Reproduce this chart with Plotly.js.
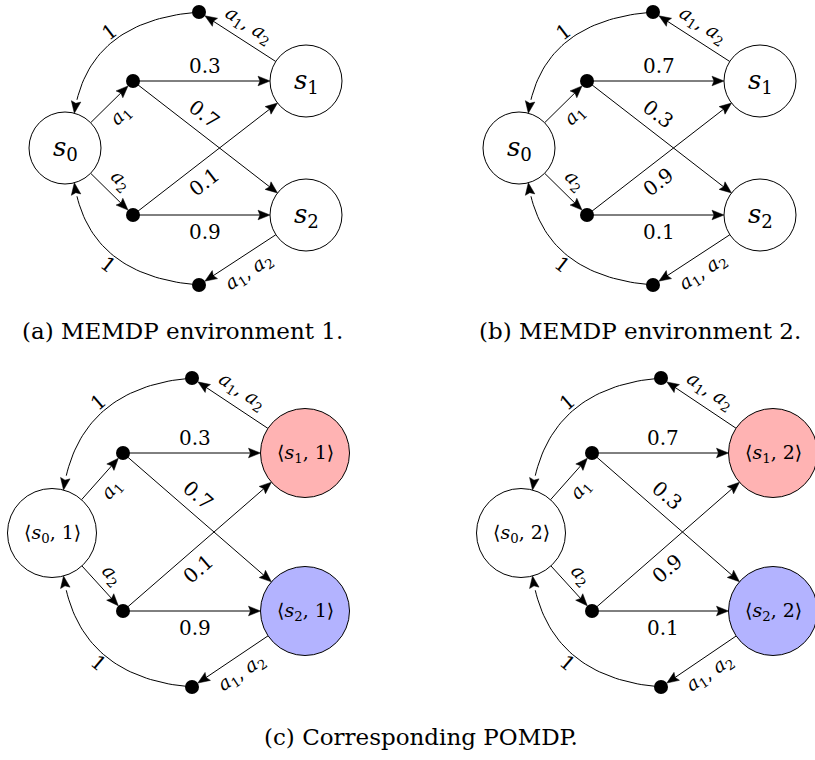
<!DOCTYPE html>
<html><head><meta charset="utf-8">
<script src="https://cdn.plot.ly/plotly-3.0.1.min.js"></script>
<style>html,body{margin:0;padding:0;background:#fff}</style>
</head><body><div id="chart" style="width:815px;height:760px"></div>
<script>
// ---------------- data ----------------
const captions = ["(a) MEMDP environment 1.", "(b) MEMDP environment 2.", "(c) Corresponding POMDP."];
const environments = [1, 2];
const probA1toS1 = [0.3, 0.7];   // per environment
const probA1toS2 = [0.7, 0.3];
const probA2toS1 = [0.1, 0.9];
const probA2toS2 = [0.9, 0.1];
const returnProb = [1, 1];
const actionIdx = [1, 2];
const stateIdx = [0, 1, 2];

// ---------------- geometry / styles ----------------
const panels = [
  {env:0, pomdp:false, s0:[65,148],  s1:[306,81],  s2:[306,215], d1x:133, dt:[199,12],  db:[199,285], r:36},
  {env:1, pomdp:false, s0:[519,148], s1:[760,81],  s2:[760,215], d1x:587, dt:[653,12],  db:[653,285], r:36},
  {env:0, pomdp:true,  s0:[52,533],  s1:[305,453], s2:[305,611], d1x:123, dt:[192,378], db:[192,687], r:44.5},
  {env:1, pomdp:true,  s0:[521,533], s1:[773,453], s2:[773,611], d1x:592, dt:[661,378], db:[661,687], r:44.5}
];
const captionPos = [[182,331],[640,331],[421,737]];
const FONT = "DejaVu Serif";
const DOTR = 7, HEADLEN = 12, HEADW = 4.8;
const pink = "rgb(255,179,179)", blue = "rgb(179,179,255)";

const lx = [], ly = [], hx = [], hy = [], dx = [], dy = [];
const shapes = [], annotations = [];

function unit(a,b){const x=b[0]-a[0], y=b[1]-a[1]; const L=Math.hypot(x,y); return [x/L,y/L,L];}
function head(tip, u){
  const bx = tip[0]-u[0]*HEADLEN, by = tip[1]-u[1]*HEADLEN;
  const px = -u[1], py = u[0];
  hx.push(tip[0], bx+px*HEADW, bx+u[0]*2, bx-px*HEADW, tip[0], null);
  hy.push(tip[1], by+py*HEADW, by+u[1]*2, by-py*HEADW, tip[1], null);
}
function straight(from, fr, to, tr){
  const u = unit(from,to);
  const p0 = [from[0]+u[0]*fr, from[1]+u[1]*fr];
  const tip = [to[0]-u[0]*tr, to[1]-u[1]*tr];
  lx.push(p0[0], tip[0]-u[0]*(HEADLEN-3), null);
  ly.push(p0[1], tip[1]-u[1]*(HEADLEN-3), null);
  head(tip, u);
  return {p0, tip, u};
}
function bez(P0,C1,C2,P3,t){
  const m=1-t;
  return [m*m*m*P0[0]+3*m*m*t*C1[0]+3*m*t*t*C2[0]+t*t*t*P3[0],
          m*m*m*P0[1]+3*m*m*t*C1[1]+3*m*t*t*C2[1]+t*t*t*P3[1]];
}
function norm(v){const L=Math.hypot(v[0],v[1]);return [v[0]/L,v[1]/L];}
function curved(P0, P3, sgn){
  const L = Math.hypot(P3[0]-P0[0], P3[1]-P0[1]);
  const a = norm([-1, 0.08*sgn]), b = norm([0.15, -1*sgn]);
  const C1 = [P0[0]+0.42*L*a[0], P0[1]+0.42*L*a[1]];
  const C2 = [P3[0]+0.42*L*b[0], P3[1]+0.42*L*b[1]];
  for(let i=0;i<=40;i++){ const p=bez(P0,C1,C2,P3,i/40*0.93); lx.push(p[0]); ly.push(p[1]); }
  lx.push(null); ly.push(null);
  head(P3, norm([P3[0]-C2[0], P3[1]-C2[1]]));
  const m = bez(P0,C1,C2,P3,0.5), m2 = bez(P0,C1,C2,P3,0.51);
  const t = norm([m2[0]-m[0], m2[1]-m[1]]);
  return {m, t};
}
function ang(u){ let a = Math.atan2(u[1],u[0])*180/Math.PI; if(a>90) a-=180; if(a<=-90) a+=180; return a; }
function label(x, y, text, size, angle){
  annotations.push({x, y, xref:'x', yref:'y', text, showarrow:false, textangle:angle||0,
    xanchor:'center', yanchor:'middle', font:{family:FONT, size, color:'black'}});
}
function stateText(i, env, pomdp){
  const s = "<i>s</i><sub>"+stateIdx[i]+"</sub>";
  return pomdp ? "\u27E8"+s+", "+environments[env]+"\u27E9" : s;
}
function actText(k){ return "<i>a</i><sub>"+actionIdx[k]+"</sub>"; }

panels.forEach(P => {
  const r = P.r, e = P.env;
  const d1 = [P.d1x, P.s1[1]], d2 = [P.d1x, P.s2[1]];
  dx.push(d1[0], d2[0], P.dt[0], P.db[0]); dy.push(d1[1], d2[1], P.dt[1], P.db[1]);
  const ea = straight(P.s0, r, d1, DOTR);
  const eb = straight(P.s0, r, d2, DOTR);
  straight(d1, 0, P.s1, r);
  straight(d1, 0, P.s2, r);
  straight(d2, 0, P.s1, r);
  straight(d2, 0, P.s2, r);
  const et = straight(P.s1, r, P.dt, DOTR);
  const ebt = straight(P.s2, r, P.db, DOTR);
  const A = 75*Math.PI/180;
  const ct = curved(P.dt, [P.s0[0]+r*Math.cos(A), P.s0[1]-r*Math.sin(A)], 1);
  const cb = curved(P.db, [P.s0[0]+r*Math.cos(A), P.s0[1]+r*Math.sin(A)], -1);

  const fs = 20, as = 19;
  label((d1[0]+P.s1[0]-r)/2+3, d1[1]-15, String(probA1toS1[e]), fs, 0);
  label((d2[0]+P.s2[0]-r)/2+3, d2[1]+17, String(probA2toS2[e]), fs, 0);
  const u12 = unit(d1, P.s2), u21 = unit(d2, P.s1);
  label(d1[0]+u12[0]*u12[2]*0.35 + u12[1]*17, d1[1]+u12[1]*u12[2]*0.35 - u12[0]*17, String(probA1toS2[e]), fs, ang(u12));
  label(d2[0]+u21[0]*u21[2]*0.35 - u21[1]*17, d2[1]+u21[1]*u21[2]*0.35 + u21[0]*17, String(probA2toS1[e]), fs, ang(u21));
  const mid = o => [(o.p0[0]+o.tip[0])/2, (o.p0[1]+o.tip[1])/2];
  let m = mid(ea); label(m[0]-ea.u[1]*16, m[1]+ea.u[0]*16, actText(0), as, ang(ea.u));
  m = mid(eb); label(m[0]+eb.u[1]*16, m[1]-eb.u[0]*16, actText(1), as, ang(eb.u));
  const both = actText(0)+", "+actText(1);
  m = mid(et); label(m[0]-et.u[1]*16, m[1]+et.u[0]*16, both, as, ang(et.u));
  m = mid(ebt); label(m[0]+ebt.u[1]*16, m[1]-ebt.u[0]*16, both, as, ang(ebt.u));
  label(ct.m[0]-ct.t[1]*10, ct.m[1]+ct.t[0]*10, String(returnProb[e]), fs, ang(ct.t));
  label(cb.m[0]+cb.t[1]*10, cb.m[1]-cb.t[0]*10, String(returnProb[e]), fs, ang(cb.t));

  [[P.s0,'white'],[P.s1,P.pomdp?pink:'white'],[P.s2,P.pomdp?blue:'white']].forEach((c,i)=>{
    shapes.push({type:'circle', xref:'x', yref:'y', x0:c[0][0]-r, x1:c[0][0]+r, y0:c[0][1]-r, y1:c[0][1]+r,
      line:{color:'black', width:1}, fillcolor:c[1], layer:'above'});
    label(c[0][0], c[0][1], stateText(i, e, P.pomdp), P.pomdp?19:26, 0);
  });
});

captions.forEach((c,i)=>label(captionPos[i][0], captionPos[i][1], c, 23, 0));

const traces = [
  {x:lx, y:ly, mode:'lines', line:{color:'black', width:1}, hoverinfo:'skip', type:'scatter'},
  {x:hx, y:hy, mode:'lines', fill:'toself', fillcolor:'black', line:{color:'black', width:0.5}, hoverinfo:'skip', type:'scatter'},
  {x:dx, y:dy, mode:'markers', marker:{color:'black', size:14}, hoverinfo:'skip', type:'scatter'}
];
const layout = {
  width:815, height:760, margin:{l:0,r:0,t:0,b:0,pad:0},
  paper_bgcolor:'white', plot_bgcolor:'white', showlegend:false,
  font:{family:FONT},
  xaxis:{range:[0,815], visible:false, fixedrange:true},
  yaxis:{range:[760,0], visible:false, fixedrange:true},
  shapes, annotations
};
Plotly.newPlot('chart', traces, layout, {staticPlot:true, displayModeBar:false});
</script></body></html>
